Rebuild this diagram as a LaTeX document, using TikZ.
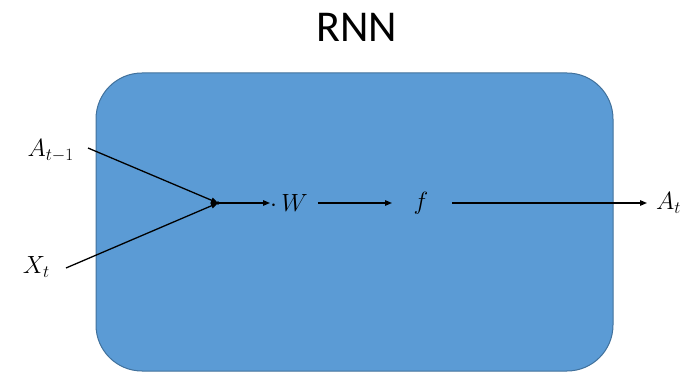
\documentclass[tikz,border=0pt]{standalone}
\usepackage{fontspec}
\setmainfont{Carlito}
\usetikzlibrary{arrows.meta}
\definecolor{cellfill}{HTML}{5B9BD5}
\definecolor{celledge}{HTML}{41719C}
\tikzset{
  mathlbl/.style={inner sep=0pt, font=\fontsize{23}{27}\selectfont},
  flow/.style={line width=1.3pt, -{Triangle[length=7pt,width=5.5pt]}}
}
\begin{document}
\begin{tikzpicture}[x=1pt,y=-1pt]
  \useasboundingbox (0,0) rectangle (686,374);
  % title
  \node[font=\fontsize{44}{50}\selectfont, inner sep=0pt] (title) at (357,27) {RNN};
  % recurrent cell
  \draw[celledge, fill=cellfill, line width=1pt, rounded corners=46pt]
    (96,73) rectangle (613,371);
  % inputs
  \node[mathlbl, anchor=east] (aprev) at (74,151) {$A_{t-1}$};
  \node[mathlbl, anchor=east] (xt) at (50,267) {$X_t$};
  \coordinate (join) at (218,203);
  \coordinate (aprevend) at (88,148);
  \coordinate (xtend) at (66,268);
  \draw[flow] (aprevend) -- (join);
  \draw[flow] (xtend) -- (join);
  \fill (join) circle (1.8pt);
  % weights, activation, output
  \node[mathlbl, anchor=west] (w) at (270,203) {$\cdot\, W$};
  \node[mathlbl] (f) at (421,203) {$f$};
  \node[mathlbl, anchor=west] (at) at (656,203) {$A_t$};
  \draw[flow] (join) -- (w.west);
  \draw[flow] ([xshift=10pt]w.east) -- ([xshift=-29pt]f.center);
  \draw[flow] ([xshift=31pt]f.center) -- ([xshift=-9pt]at.west);
\end{tikzpicture}
\end{document}
